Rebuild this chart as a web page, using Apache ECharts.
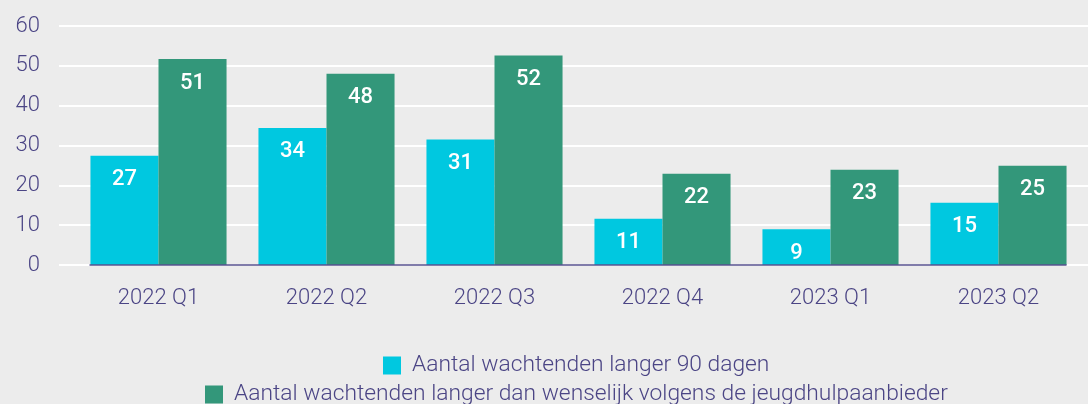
<!DOCTYPE html>
<html>
<head>
<meta charset="utf-8">
<script src="https://cdn.jsdelivr.net/npm/echarts@6/dist/echarts.min.js"></script>
<style>
html,body{margin:0;padding:0;background:#ececec;}
#c{width:1088px;height:404px;}
</style>
</head>
<body>
<div id="c"></div>
<script>
const categories = ['2022 Q1','2022 Q2','2022 Q3','2022 Q4','2023 Q1','2023 Q2'];
const seriesNames = ['Aantal wachtenden langer 90 dagen','Aantal wachtenden langer dan wenselijk volgens de jeugdhulpaanbieder'];
const wait90 = [27.4, 34.4, 31.5, 11.6, 9.0, 15.6];
const waitWish = [51.7, 48.0, 52.6, 22.9, 23.9, 24.9];
const wait90Labels = ['27','34','31','11','9','15'];
const waitWishLabels = ['51','48','52','22','23','25'];
const yTicks = [0,10,20,30,40,50,60];

const TXT = '#4b4585';
const FONT = 'Roboto';
const chart = echarts.init(document.getElementById('c'));
const labelStyle = (arr) => ({
  show: true, position: 'insideTop', distance: 13,
  color: '#ffffff', fontFamily: FONT, fontWeight: 500, fontSize: 22,
  formatter: p => arr[p.dataIndex]
});
chart.setOption({
  backgroundColor: '#ececec',
  animation: false,
  grid: [
    {left: 59, right: 0, top: 26, height: 239},
    {left: 74.5, right: 5.5, top: 26, height: 239},
    {left: 90, right: 22, top: 26, height: 239}
  ],
  xAxis: [
    {gridIndex: 0, type: 'category', data: categories, show: false},
    {gridIndex: 1, type: 'category', data: categories,
     axisLine: {show: false}, axisTick: {show: false},
     axisLabel: {color: TXT, fontFamily: FONT, fontWeight: 300, fontSize: 22, margin: 22}},
    {gridIndex: 2, type: 'category', data: categories, z: 5,
     axisLine: {show: true, lineStyle: {color: '#57518f', width: 1.5}},
     axisTick: {show: false}, axisLabel: {show: false}}
  ],
  yAxis: [
    {gridIndex: 0, type: 'value', min: yTicks[0], max: yTicks[yTicks.length-1], interval: 10,
     axisLine: {show: false}, axisTick: {show: false},
     axisLabel: {color: TXT, fontFamily: FONT, fontWeight: 300, fontSize: 22, margin: 19},
     splitLine: {show: true, lineStyle: {color: '#ffffff', width: 2}}},
    {gridIndex: 1, type: 'value', min: 0, max: 60, interval: 10, show: false, splitLine: {show: false}},
    {gridIndex: 2, type: 'value', min: 0, max: 60, interval: 10, show: false, splitLine: {show: false}}
  ],
  legend: [
    {data: [seriesNames[0]], left: 383, top: 354, padding: 0,
     itemWidth: 18, itemHeight: 18, icon: 'rect',
     textStyle: {color: TXT, fontFamily: FONT, fontWeight: 300, fontSize: 22.8, padding: [0,0,0,6]}},
    {data: [seriesNames[1]], left: 205, top: 383, padding: 0,
     itemWidth: 18, itemHeight: 18, icon: 'rect',
     textStyle: {color: TXT, fontFamily: FONT, fontWeight: 300, fontSize: 22.8, padding: [0,0,0,6]}}
  ],
  series: [
    {name: seriesNames[0], type: 'bar', xAxisIndex: 1, yAxisIndex: 1, data: wait90,
     barGap: '0%', barCategoryGap: '19%', itemStyle: {color: '#00c8e0'},
     label: labelStyle(wait90Labels)},
    {name: seriesNames[1], type: 'bar', xAxisIndex: 1, yAxisIndex: 1, data: waitWish,
     barGap: '0%', barCategoryGap: '19%', itemStyle: {color: '#33977a'},
     label: labelStyle(waitWishLabels)}
  ]
});
</script>
</body>
</html>
